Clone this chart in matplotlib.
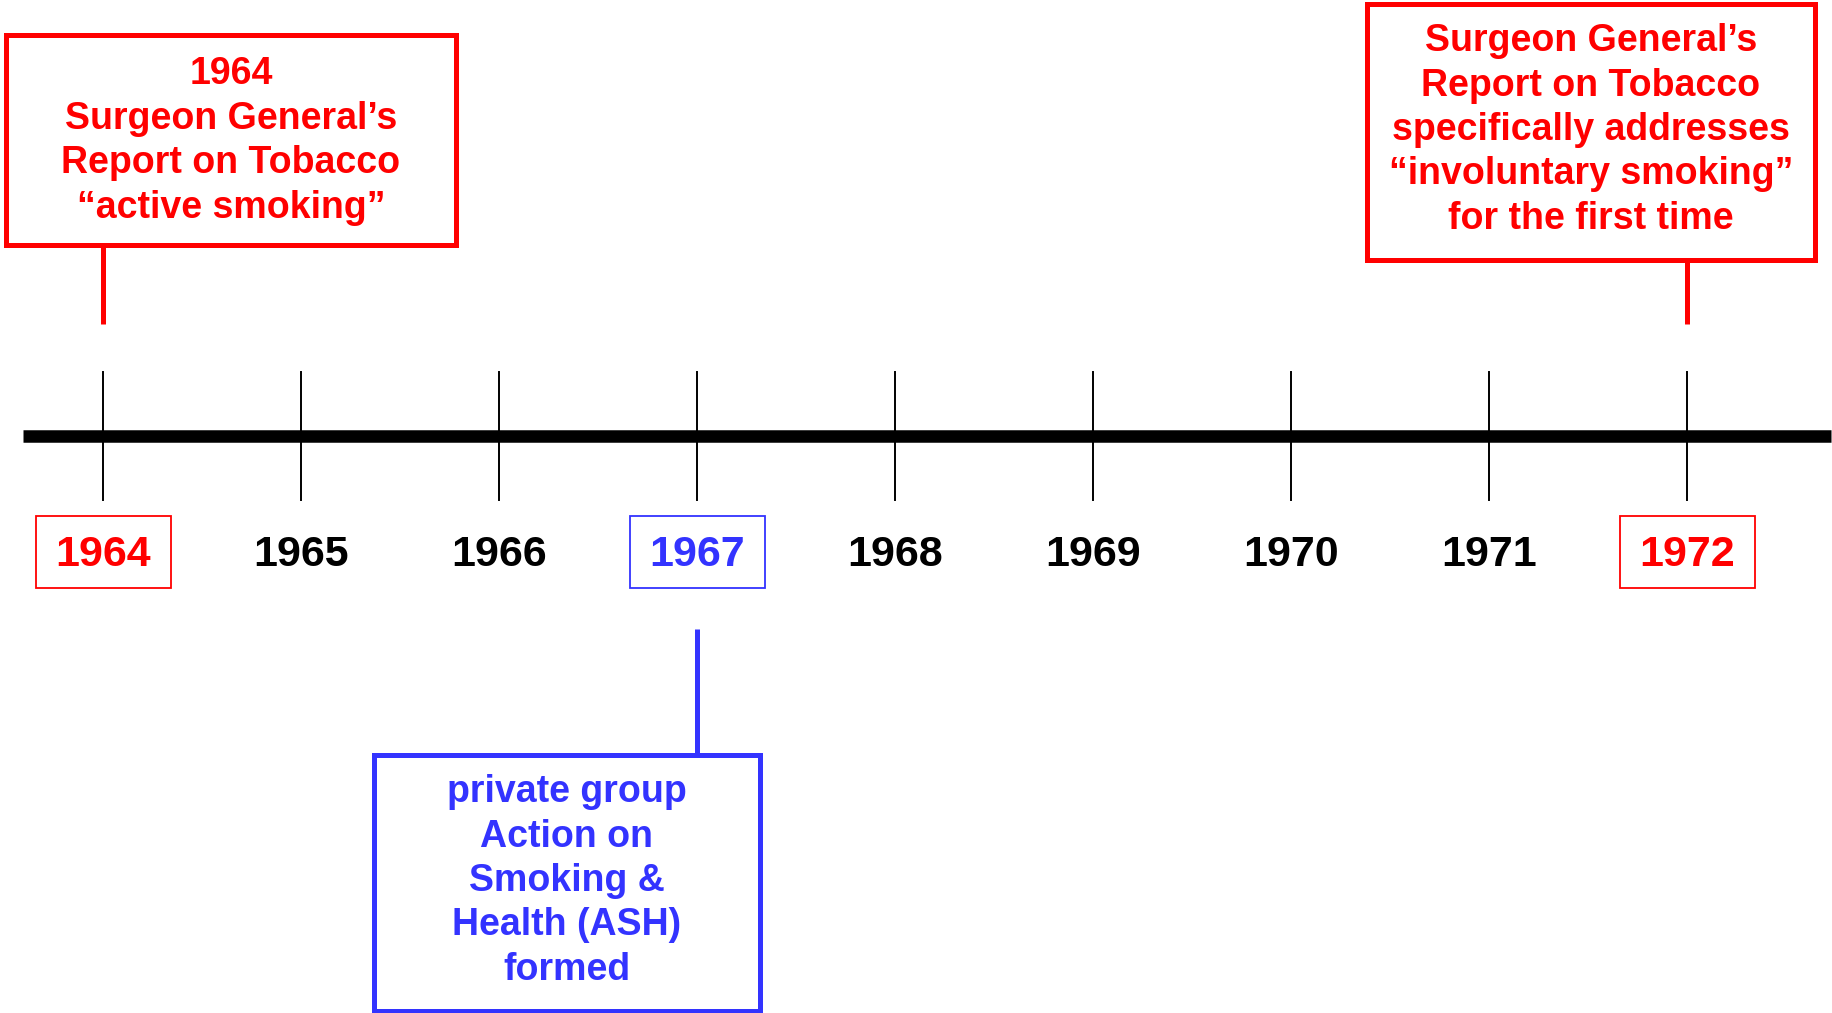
"""
Smoking policy timeline 1964-1972, drawn as a slide-style timeline.
"""

import matplotlib
matplotlib.use("Agg")
import matplotlib.pyplot as plt
from matplotlib import font_manager
from matplotlib.patches import Rectangle

# ---------------------------------------------------------------
# Data
# ---------------------------------------------------------------

years = [1964, 1965, 1966, 1967, 1968, 1969, 1970, 1971, 1972]
year_colors = ["#FF0000", "black", "black", "#3333FF", "black",
               "black", "black", "black", "#FF0000"]
boxed_years = [1964, 1967, 1972]

event_years = [1964, 1972, 1967]
event_texts = [
    "1964\nSurgeon General\u2019s\nReport on Tobacco\n\u201cactive smoking\u201d",
    "Surgeon General\u2019s\nReport on Tobacco\nspecifically addresses\n"
    "\u201cinvoluntary smoking\u201d\nfor the first time",
    "private group\nAction on\nSmoking &\nHealth (ASH)\nformed",
]
event_colors = ["#FF0000", "#FF0000", "#3333FF"]
event_side = ["above", "above", "below"]

# ---------------------------------------------------------------
# Layout (pixels, figure is 1833 x 1013 at dpi 100)
# ---------------------------------------------------------------

W, H = 1833, 1013
PX_PER_YEAR = 198.0
X0_PX = 103.0  # pixel x of first year

fig = plt.figure(figsize=(W / 100, H / 100), dpi=100)
ax = fig.add_axes([0, 0, 1, 1])
ax.set_xlim(years[0] - X0_PX / PX_PER_YEAR,
            years[0] + (W - X0_PX) / PX_PER_YEAR)
ax.set_ylim(H, 0)
ax.axis("off")

names = {f.name for f in font_manager.fontManager.ttflist}
narrow = "Liberation Sans Narrow" if "Liberation Sans Narrow" in names else "Liberation Sans"
year_size = 35 if narrow == "Liberation Sans Narrow" else 31


def px_to_year(px):
    return years[0] + (px - X0_PX) / PX_PER_YEAR


# main axis line
ax.plot([px_to_year(23), px_to_year(1831)], [436, 436], color="black",
        linewidth=9, solid_capstyle="butt")

# ticks and year labels
for yr, col in zip(years, year_colors):
    ax.plot([yr, yr], [372, 500], color="black", linewidth=1.4)
    ax.text(yr, 555, str(yr), color=col, fontsize=year_size, fontweight="bold",
            family=narrow, ha="center", va="center")
    if yr in boxed_years:
        bw = 135 / PX_PER_YEAR
        ax.add_patch(Rectangle((yr - bw / 2, 516), bw, 72, fill=False,
                               edgecolor=col, linewidth=1.3))

# event callout boxes: (centre x px, top px, width px, height px, text centre y px)
box_layout = {
    1964: (231, 35, 450, 210, 141),
    1972: (1591, 4, 449, 256, 130),
    1967: (567, 755, 386, 256, 881),
}

for yr, txt, col, side in zip(event_years, event_texts, event_colors, event_side):
    cx_px, top, bw, bh, ty = box_layout[yr]
    cx = px_to_year(cx_px)
    w = bw / PX_PER_YEAR
    ax.add_patch(Rectangle((cx - w / 2, top), w, bh, fill=False,
                           edgecolor=col, linewidth=3.6))
    ax.text(cx, ty, txt, color=col,
            fontsize=27, fontweight="bold", family="Liberation Sans",
            ha="center", va="center", multialignment="center",
            linespacing=1.3)
    if side == "above":
        ax.plot([yr, yr], [top + bh, 324], color=col, linewidth=3.6,
                solid_capstyle="butt")
    else:
        ax.plot([yr, yr], [629, top], color=col, linewidth=3.6,
                solid_capstyle="butt")

fig.savefig("out.png", dpi=100, facecolor="white")
plt.close(fig)
